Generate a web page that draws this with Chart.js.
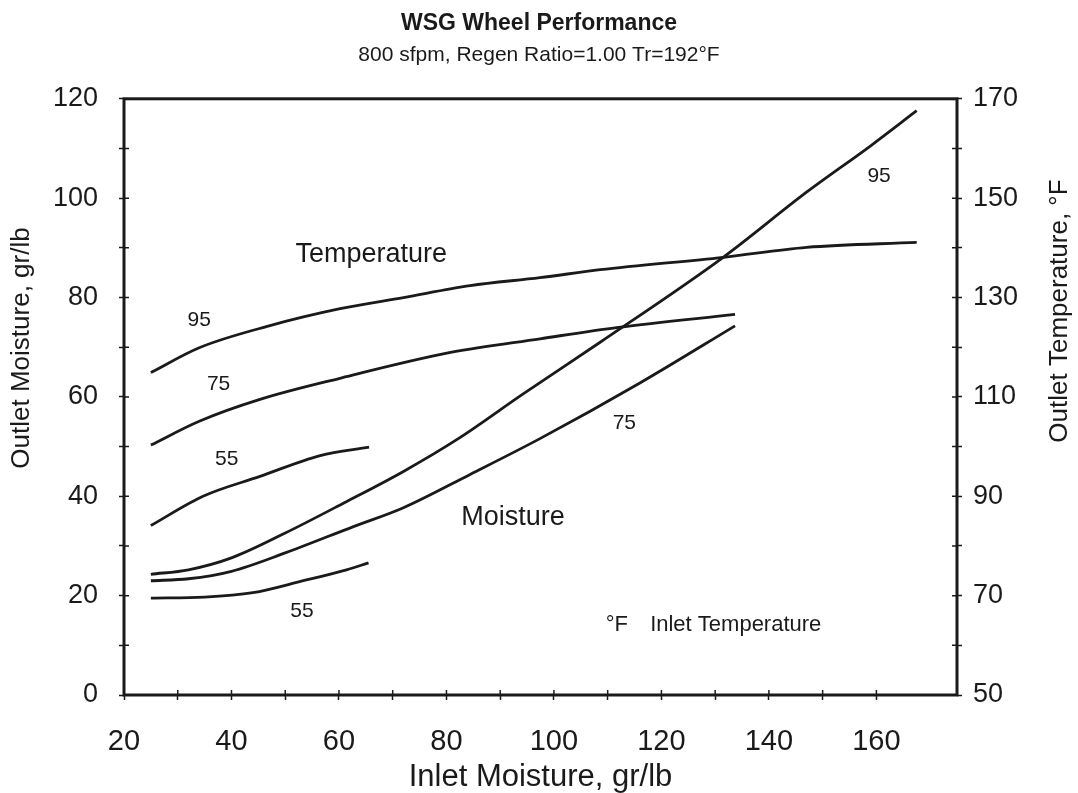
<!DOCTYPE html>
<html>
<head>
<meta charset="utf-8">
<script src="https://cdn.jsdelivr.net/npm/chart.js@4.4.1/dist/chart.umd.min.js"></script>
<style>
  html, body { margin: 0; padding: 0; background: #fff; }
  #wrap { width: 1078px; height: 793px; }
</style>
</head>
<body>
<div id="wrap"><canvas id="chart"></canvas></div>
<script>
// tick labels
const xTickLabels = [20, 40, 60, 80, 100, 120, 140, 160];
const moistTickLabels = [0, 20, 40, 60, 80, 100, 120];
const tempTickLabels = [50, 70, 90, 110, 130, 150, 170];

// outlet moisture curves (gr/lb) vs inlet moisture, by inlet temperature
const moist95In  = [25, 32, 40, 50, 61, 72, 82.5, 94, 108.6, 131.5, 147, 159, 167.5];
const moist95Out = [24.3, 25.2, 27.6, 32.6, 38.7, 45, 51.8, 60.4, 71.0, 88.1, 101.2, 110.6, 117.6];
const moist75In  = [25, 32, 40, 50, 62.7, 72, 84.4, 97.4, 116, 133.7];
const moist75Out = [23.0, 23.4, 24.9, 28.6, 33.9, 37.7, 44.4, 51.6, 62.8, 74.3];
const moist55In  = [25, 35, 44, 53, 61.4, 65.5];
const moist55Out = [19.5, 19.7, 20.6, 22.9, 25.2, 26.6];

// outlet temperature curves (°F) vs inlet moisture, by inlet temperature
const temp95In  = [25, 34, 47, 60, 72, 84.4, 97.4, 108.6, 131.5, 147, 167.5];
const temp95Out = [114.9, 119.9, 124.3, 127.7, 130.0, 132.4, 134.0, 135.6, 138.1, 140.1, 141.1];
const temp75In  = [25, 34, 45.3, 60, 81, 97.4, 112, 133.7];
const temp75Out = [100.3, 105.1, 109.5, 113.7, 119.0, 121.7, 124.0, 126.6];
const temp55In  = [25, 34.7, 45.3, 56.5, 65.6];
const temp55Out = [84.1, 90.0, 94.0, 98.2, 99.9];

const FONT = "'Liberation Sans', Arial, sans-serif";
const INK = '#1a1a1a';

const pts = (xs, ys) => xs.map((x, i) => ({ x, y: ys[i] }));
const curve = (label, xs, ys, axis) => ({
  label,
  data: pts(xs, ys),
  yAxisID: axis,
  borderColor: INK,
  borderWidth: 2.8,
  pointRadius: 0,
  fill: false,
  cubicInterpolationMode: 'monotone',
});

// text placed on the plot, in data units (x, left axis)
const notes = [
  { text: 'Temperature', x: 66, y: 88.7, size: 27 },
  { text: 'Moisture', x: 92.4, y: 35.7, size: 27 },
  { text: '95', x: 34, y: 75.5, size: 21 },
  { text: '75', x: 37.6, y: 62.5, size: 21 },
  { text: '55', x: 39.1, y: 47.4, size: 21 },
  { text: '55', x: 53.1, y: 16.8, size: 21 },
  { text: '75', x: 113.1, y: 54.8, size: 21 },
  { text: '95', x: 160.5, y: 104.5, size: 21 },
  { text: '°F', x: 111.7, y: 14.1, size: 22 },
  { text: 'Inlet Temperature', x: 117.9, y: 14.1, size: 22, align: 'left' },
];

const framePlugin = {
  id: 'frame',
  afterDatasetsDraw(chart) {
    const { ctx, chartArea: a, scales } = chart;
    ctx.save();
    ctx.strokeStyle = INK;
    ctx.lineWidth = 3;
    ctx.strokeRect(a.left, a.top, a.right - a.left, a.bottom - a.top);

    // short tick marks on the inner side of the frame
    ctx.lineWidth = 1.5;
    ctx.beginPath();
    scales.x.ticks.forEach(t => {
      const px = scales.x.getPixelForValue(t.value);
      ctx.moveTo(px, a.bottom); ctx.lineTo(px, a.bottom - 5);
    });
    scales.y.ticks.forEach(t => {
      const py = scales.y.getPixelForValue(t.value);
      ctx.moveTo(a.left, py); ctx.lineTo(a.left + 5, py);
    });
    scales.y2.ticks.forEach(t => {
      const py = scales.y2.getPixelForValue(t.value);
      ctx.moveTo(a.right, py); ctx.lineTo(a.right - 5, py);
    });
    ctx.stroke();

    ctx.fillStyle = INK;
    ctx.textBaseline = 'middle';
    notes.forEach(n => {
      ctx.font = `${n.size}px ${FONT}`;
      ctx.textAlign = n.align || 'center';
      ctx.fillText(n.text, scales.x.getPixelForValue(n.x), scales.y.getPixelForValue(n.y));
    });

    // vertical axis titles, both reading bottom to top
    ctx.font = `26px ${FONT}`;
    ctx.textAlign = 'center';
    ctx.translate(22, 348);
    ctx.rotate(-Math.PI / 2);
    ctx.fillText('Outlet Moisture, gr/lb', 0, 0);
    ctx.setTransform(1, 0, 0, 1, 0, 0);
    ctx.translate(1060, 311);
    ctx.rotate(-Math.PI / 2);
    ctx.fillText('Outlet Temperature, °F', 0, 0);
    ctx.restore();
  }
};

const tickGrid = { drawOnChartArea: false, tickLength: 5, tickColor: INK, tickWidth: 1.5 };

new Chart(document.getElementById('chart'), {
  type: 'line',
  data: {
    datasets: [
      curve('Moisture 95', moist95In, moist95Out, 'y'),
      curve('Moisture 75', moist75In, moist75Out, 'y'),
      curve('Moisture 55', moist55In, moist55Out, 'y'),
      curve('Temperature 95', temp95In, temp95Out, 'y2'),
      curve('Temperature 75', temp75In, temp75Out, 'y2'),
      curve('Temperature 55', temp55In, temp55Out, 'y2'),
    ]
  },
  options: {
    responsive: true,
    maintainAspectRatio: false,
    animation: false,
    devicePixelRatio: 1,
    layout: { padding: 0 },
    plugins: {
      legend: { display: false },
      tooltip: { enabled: false },
      title: {
        display: true,
        text: 'WSG Wheel Performance',
        color: INK,
        font: { family: FONT, size: 23, weight: 'bold' },
        padding: { top: 10, bottom: 5 },
      },
      subtitle: {
        display: true,
        text: '800 sfpm, Regen Ratio=1.00 Tr=192°F',
        color: INK,
        font: { family: FONT, size: 21 },
        padding: { top: 0, bottom: 31 },
      },
    },
    scales: {
      x: {
        type: 'linear',
        min: 20,
        max: 175,
        border: { display: false },
        grid: tickGrid,
        afterBuildTicks: s => { s.ticks = s.ticks.filter(t => t.value % 10 === 0); },
        afterFit: s => { s.height = 98; },
        ticks: {
          stepSize: 10,
          autoSkip: false,
          maxRotation: 0,
          padding: 25,
          color: INK,
          font: { family: FONT, size: 29 },
          callback: v => xTickLabels.includes(v) ? String(v) : '',
        },
        title: {
          display: true,
          text: 'Inlet Moisture, gr/lb',
          color: INK,
          font: { family: FONT, size: 31, lineHeight: 1.0 },
          padding: { top: 0, bottom: 0 },
        },
      },
      y: {
        position: 'left',
        min: 0,
        max: 120,
        border: { display: false },
        grid: tickGrid,
        afterFit: s => { s.width = 124; },
        ticks: {
          stepSize: 10,
          padding: 21,
          color: INK,
          font: { family: FONT, size: 27 },
          callback: v => moistTickLabels.includes(v) ? String(v) : '',
        },
      },
      y2: {
        position: 'right',
        min: 50,
        max: 170,
        border: { display: false },
        grid: tickGrid,
        afterFit: s => { s.width = 121; },
        ticks: {
          stepSize: 10,
          padding: 11,
          color: INK,
          font: { family: FONT, size: 27 },
          callback: v => tempTickLabels.includes(v) ? String(v) : '',
        },
      },
    },
  },
  plugins: [framePlugin],
});
</script>
</body>
</html>
